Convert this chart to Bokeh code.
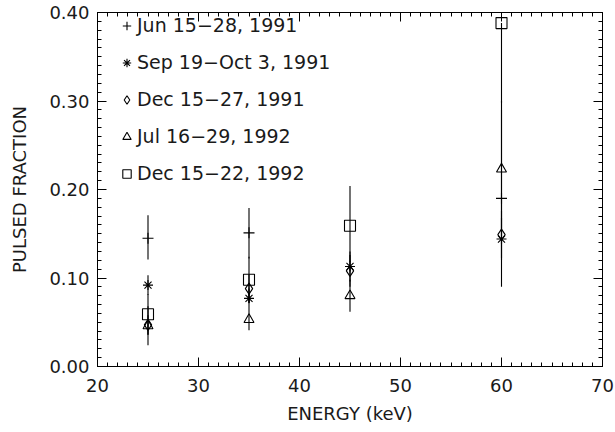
from bokeh.plotting import figure
from bokeh.models import (LinearAxis, SingleIntervalTicker, NumeralTickFormatter,
                          Legend, LegendItem, Range1d, CustomJSTickFormatter)
from bokeh.embed import file_html
from bokeh.resources import INLINE

# ---- data ----
series_labels = ["Jun 15\u221228, 1991", "Sep 19\u2212Oct 3, 1991", "Dec 15\u221227, 1991",
                 "Jul 16\u221229, 1992", "Dec 15\u221222, 1992"]

jun91_x = [25, 35, 60]
jun91_y = [0.145, 0.151, 0.190]
jun91_lo = [0.121, 0.122, 0.090]
jun91_hi = [0.171, 0.179, 0.290]

sep91_x = [25, 35, 45, 60]
sep91_y = [0.092, 0.077, 0.113, 0.144]
sep91_lo = [0.081, 0.066, 0.096, 0.120]
sep91_hi = [0.103, 0.088, 0.130, 0.168]

dec91_x = [25, 35, 45, 60]
dec91_y = [0.047, 0.088, 0.108, 0.149]
dec91_lo = [0.036, 0.072, 0.090, 0.122]
dec91_hi = [0.058, 0.104, 0.126, 0.176]

jul92_x = [25, 35, 45, 60]
jul92_y = [0.046, 0.053, 0.080, 0.223]
jul92_lo = [0.024, 0.041, 0.062, 0.150]
jul92_hi = [0.068, 0.066, 0.098, 0.300]

dec92_x = [25, 35, 45, 60]
dec92_y = [0.059, 0.098, 0.159, 0.388]
dec92_lo = [0.036, 0.072, 0.118, 0.298]
dec92_hi = [0.082, 0.124, 0.204, 0.388]

x_range = (20, 70)
y_range = (0.0, 0.40)

series = [
    (jun91_x, jun91_y, jun91_lo, jun91_hi),
    (sep91_x, sep91_y, sep91_lo, sep91_hi),
    (dec91_x, dec91_y, dec91_lo, dec91_hi),
    (jul92_x, jul92_y, jul92_lo, jul92_hi),
    (dec92_x, dec92_y, dec92_lo, dec92_hi),
]
marker_styles = [("cross", 11), ("asterisk", 10), ("diamond", 11), ("triangle", 10), ("square", 11)]

FONT = "DejaVu Sans"
TXT = "#1a1a1a"

p = figure(width=615, height=432, output_backend="svg", toolbar_location=None,
           x_range=Range1d(*x_range), y_range=Range1d(*y_range),
           x_axis_location=None, y_axis_location=None)
p.min_border_left = 97
p.min_border_right = 13
p.min_border_top = 12
p.min_border_bottom = 66
p.grid.visible = False
p.outline_line_color = "black"
p.background_fill_color = "white"
p.border_fill_color = "white"

blank = CustomJSTickFormatter(code="return ''")


def style_axis(ax, labels=True):
    ax.axis_line_color = "black"
    ax.axis_line_width = 1
    ax.major_tick_in = 9
    ax.major_tick_out = 0
    ax.minor_tick_in = 4
    ax.minor_tick_out = 0
    ax.major_tick_line_color = "black"
    ax.minor_tick_line_color = "black"
    if labels:
        ax.major_label_text_font = FONT
        ax.major_label_text_font_size = "18px"
        ax.major_label_text_color = TXT
        ax.axis_label_text_font = FONT
        ax.axis_label_text_font_size = "18px"
        ax.axis_label_text_font_style = "normal"
        ax.axis_label_text_color = TXT
    else:
        ax.formatter = blank
        ax.major_label_standoff = 0


xt = lambda: SingleIntervalTicker(interval=10, num_minor_ticks=10)
yt = lambda: SingleIntervalTicker(interval=0.1, num_minor_ticks=10)

bottom = LinearAxis(ticker=xt(), axis_label="ENERGY (keV)")
style_axis(bottom)
bottom.major_label_standoff = 12
bottom.axis_label_standoff = 8
left = LinearAxis(ticker=yt(), axis_label="PULSED FRACTION",
                  formatter=NumeralTickFormatter(format="0.00"))
style_axis(left)
left.major_label_standoff = 8
left.axis_label_standoff = 16
top = LinearAxis(ticker=xt())
style_axis(top, labels=False)
right = LinearAxis(ticker=yt())
style_axis(right, labels=False)
p.add_layout(bottom, "below")
p.add_layout(left, "left")
p.add_layout(top, "above")
p.add_layout(right, "right")

items = []
for (xs, ys, lo, hi), (mk, sz), lab in zip(series, marker_styles, series_labels):
    p.segment(x0=xs, y0=lo, x1=xs, y1=hi, line_color="black", line_width=1.1)
    r = p.scatter(x=xs, y=ys, marker=mk, size=sz, line_color="black",
                  fill_color=None, line_width=1.1)
    items.append(LegendItem(label=lab, renderers=[r]))

legend = Legend(items=items, location=(19, 182), orientation="vertical")
legend.border_line_alpha = 0
legend.background_fill_alpha = 0
legend.padding = 0
legend.margin = 0
legend.glyph_width = 21
legend.glyph_height = 21
legend.label_height = 21
legend.spacing = 15
legend.label_standoff = 0
legend.label_text_font = FONT
legend.label_text_font_size = "19px"
legend.label_text_color = TXT
p.add_layout(legend, "center")

open("out.html", "w").write(file_html(p, INLINE))
